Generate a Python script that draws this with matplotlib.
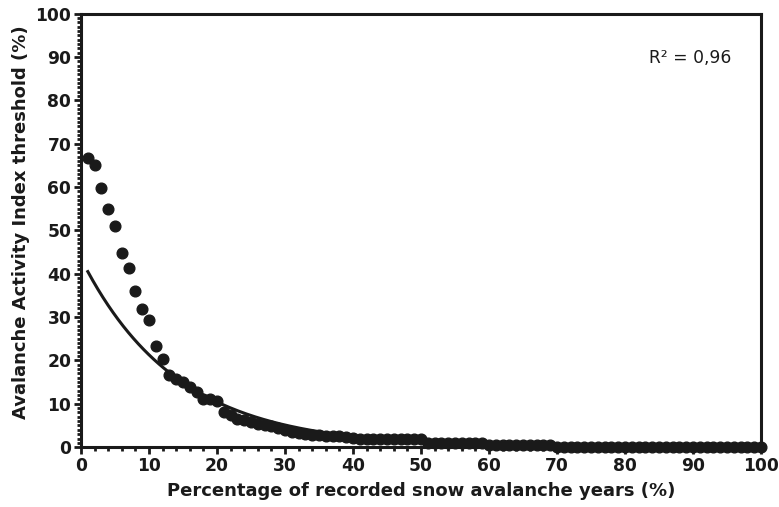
import matplotlib
matplotlib.use("Agg")
import matplotlib.pyplot as plt
import numpy as np
from matplotlib.ticker import MultipleLocator

plt.rcParams['font.family'] = ['DejaVu Sans']

# Observed points (percentage of recorded years, AAI threshold)
pct_years = list(range(1, 101))
aai_threshold = [
    66.8, 65.1, 59.8, 54.9, 51.0, 44.9, 41.4, 36.0, 31.8, 29.4,
    23.3, 20.4, 16.6, 15.8, 15.0, 13.9, 12.7, 11.0, 11.2, 10.6,
    8.1, 7.4, 6.6, 6.2, 5.8, 5.4, 5.1, 4.8, 4.4, 3.9,
    3.5, 3.2, 3.0, 2.8, 2.7, 2.6, 2.5, 2.5, 2.3, 2.1,
    1.9, 1.9, 1.9, 1.9, 1.9, 1.9, 1.9, 1.9, 1.9, 1.9,
    1.0, 1.0, 1.0, 1.0, 1.0, 1.0, 1.0, 1.0, 1.0, 0.5,
    0.5, 0.5, 0.5, 0.5, 0.5, 0.5, 0.5, 0.5, 0.5, 0.1,
    0.1, 0.1, 0.1, 0.1, 0.1, 0.1, 0.1, 0.1, 0.1, 0.1,
    0.1, 0.1, 0.1, 0.1, 0.1, 0.1, 0.1, 0.1, 0.1, 0.1,
    0.1, 0.1, 0.1, 0.1, 0.1, 0.1, 0.1, 0.1, 0.1, 0.1,
]

# Exponential trend line y = a * exp(-b x)
fit_a = 43.5
fit_b = 0.0714
r2_label = "R² = 0,96"

x_ticks = [0, 10, 20, 30, 40, 50, 60, 70, 80, 90, 100]
y_ticks = [0, 10, 20, 30, 40, 50, 60, 70, 80, 90, 100]

INK = '#1a1a1a'
FS = 12.3
FS_LAB = 13

fig = plt.figure(figsize=(7.79, 5.07), dpi=100)
ax = fig.add_axes([0.104, 0.118, 0.873, 0.855])

xf = np.linspace(1, 100, 400)
ax.plot(xf, fit_a * np.exp(-fit_b * xf), color=INK, lw=2.2, zorder=2)
ax.plot(pct_years, aai_threshold, 'o', color=INK, ms=7.7, zorder=3, clip_on=False)

ax.set_xlim(0, 100)
ax.set_ylim(0, 100)
ax.set_xticks(x_ticks)
ax.set_yticks(y_ticks)
ax.xaxis.set_minor_locator(MultipleLocator(2))
ax.yaxis.set_minor_locator(MultipleLocator(1))

for s in ax.spines.values():
    s.set_linewidth(2.2)
    s.set_color(INK)

ax.tick_params(axis='both', which='major', direction='out', length=5, width=2,
               color=INK, labelsize=FS, pad=2)
ax.tick_params(axis='both', which='minor', direction='out', length=3, width=2,
               color=INK)
ax.tick_params(top=False, right=False, which='both')
for lab in ax.get_xticklabels() + ax.get_yticklabels():
    lab.set_fontweight('bold')
    lab.set_color(INK)

ax.set_xlabel("Percentage of recorded snow avalanche years (%)", fontsize=FS_LAB,
              fontweight='bold', color=INK, labelpad=5)
ax.set_ylabel("Avalanche Activity Index threshold (%)", fontsize=FS_LAB,
              fontweight='bold', color=INK, labelpad=4)
ax.yaxis.label.set_y(0.52)

ax.text(0.835, 0.897, r2_label, transform=ax.transAxes, fontsize=FS,
        color=INK, va='center', ha='left')

fig.savefig("out.png", dpi=100)
